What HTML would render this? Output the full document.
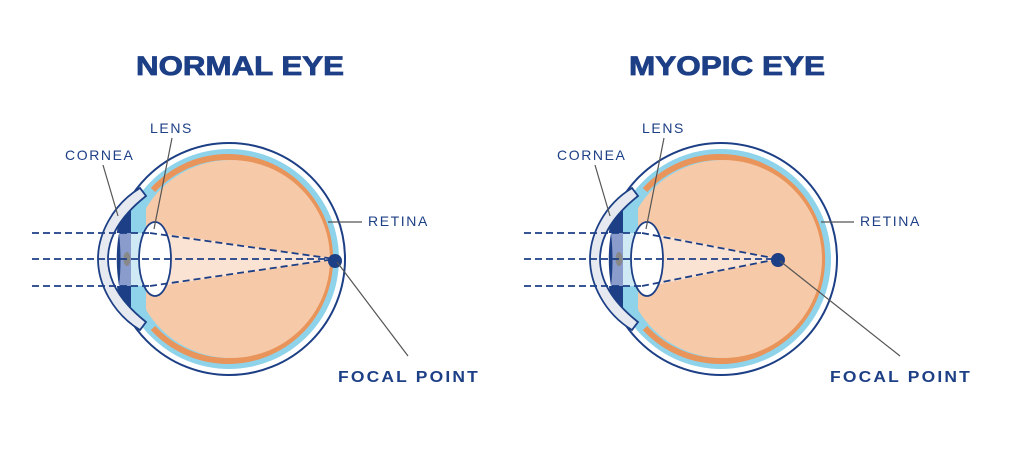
<!DOCTYPE html>
<html><head><meta charset="utf-8"><style>
html,body{margin:0;padding:0;background:#fff;}
svg{display:block;font-family:"Liberation Sans",sans-serif;}
</style></head><body>
<svg width="1024" height="454" viewBox="0 0 1024 454" xmlns="http://www.w3.org/2000/svg">
<defs>
<clipPath id="inner"><circle cx="229" cy="259" r="110"/></clipPath>
<g id="eye">
  <circle cx="229" cy="259" r="116" fill="#fff" stroke="#1d3f86" stroke-width="2"/>
  <circle cx="229" cy="259" r="110" fill="#8fd3ea"/>
  <path d="M153 190 A102 102 0 1 1 153 328" fill="none" stroke="#e8945a" stroke-width="6"/>
  <circle cx="231" cy="259" r="99" fill="#f6c9a8"/>
  <g clip-path="url(#inner)">
    <path d="M100 140 L160 140 C150 180 143 215 143 259 C143 303 150 338 160 378 L100 378 Z" fill="#8fd3ea"/>
  </g>
  <!-- front chamber -->
  <path d="M146 196 C122 215 110 236 110 259 C110 282 122 303 146 322 L146 196 Z" fill="#8fd3ea"/>
  <path d="M119 222 C122 214 126 210 131 206 L131 312 C126 308 122 304 119 296 C113 280 113 238 119 222 Z" fill="#1d3f86"/>
  <path d="M131 233 L146 233 L146 286 L131 286 Z" fill="#cfeaf4"/>
  <path d="M146 196 C122 215 110 236 110 259 C110 282 122 303 146 322 L120 322 C112 300 112 218 120 196 Z" fill="none"/>
  <path d="M119 233 C116 250 116 268 119 286 L110 286 L110 233 Z" fill="#fff"/>
  <path d="M119 222 C114 238 114 280 119 296 C116 300 113 300 111 286 C109 270 109 248 111 233 C113 220 116 218 119 222 Z" fill="#fff"/>
  <path d="M119 233 L131 233 L131 286 L119 286 C121 270 121 250 119 233 Z" fill="#8a9ccc"/>
  <ellipse cx="127" cy="259" rx="3.5" ry="7" fill="#888"/>
  <!-- cornea -->
  <path d="M140 188 C112 205 98 235 98 259 C98 283 112 313 140 330 L146 322 C122 303 108 282 108 259 C108 236 122 215 146 196 Z" fill="#e6eaf0" stroke="#1d3f86" stroke-width="1.8"/>
</g>
<g id="lens">
  <ellipse cx="155" cy="259" rx="16" ry="37" fill="#fff" stroke="#1d3f86" stroke-width="1.8"/>
</g>
</defs>

<text x="136" y="75" font-size="27" font-weight="900" fill="#1d3f86" stroke="#1d3f86" stroke-width="0.8" textLength="208" lengthAdjust="spacingAndGlyphs">NORMAL EYE</text>
<use href="#eye"/>
<polygon points="160,233 335,259 160,286" fill="#fbe3d3"/>
<use href="#lens"/>
<g stroke="#1d3f86" stroke-width="1.8" stroke-dasharray="7,4" fill="none">
  <line x1="32" y1="233" x2="150" y2="233"/>
  <line x1="32" y1="259" x2="335" y2="259"/>
  <line x1="32" y1="286" x2="150" y2="286"/>
  <line x1="150" y1="233" x2="335" y2="259"/>
  <line x1="150" y1="286" x2="335" y2="259"/>
</g>
<circle cx="335" cy="261" r="7" fill="#1d3f86"/>
<g stroke="#555" stroke-width="1.2">
  <line x1="172" y1="138" x2="154" y2="229"/>
  <line x1="103" y1="165" x2="118" y2="216"/>
  <line x1="328" y1="222" x2="362" y2="222"/>
  <line x1="337" y1="262" x2="408" y2="356"/>
</g>
<g fill="#1d3f86" font-size="14" letter-spacing="1.6">
  <text x="150" y="133">LENS</text>
  <text x="65" y="160">CORNEA</text>
  <text x="368" y="226">RETINA</text>
</g>
<text x="338" y="382" font-size="16" font-weight="bold" fill="#1d3f86" letter-spacing="2" textLength="142" lengthAdjust="spacingAndGlyphs">FOCAL POINT</text>

<text x="629" y="75" font-size="27" font-weight="900" fill="#1d3f86" stroke="#1d3f86" stroke-width="0.8" textLength="196" lengthAdjust="spacingAndGlyphs">MYOPIC EYE</text>
<g transform="translate(492,0)">
  <use href="#eye"/>
  <polygon points="160,233 286,259 160,286" fill="#fbe3d3"/>
  <use href="#lens"/>
  <g stroke="#1d3f86" stroke-width="1.8" stroke-dasharray="7,4" fill="none">
    <line x1="32" y1="233" x2="150" y2="233"/>
    <line x1="32" y1="259" x2="286" y2="259"/>
    <line x1="32" y1="286" x2="150" y2="286"/>
    <line x1="150" y1="233" x2="286" y2="259"/>
    <line x1="150" y1="286" x2="286" y2="259"/>
  </g>
  <circle cx="286" cy="260" r="7" fill="#1d3f86"/>
  <g stroke="#555" stroke-width="1.2">
    <line x1="172" y1="138" x2="154" y2="229"/>
    <line x1="103" y1="165" x2="118" y2="216"/>
    <line x1="329" y1="222" x2="362" y2="222"/>
    <line x1="288" y1="261" x2="408" y2="356"/>
  </g>
  <g fill="#1d3f86" font-size="14" letter-spacing="1.6">
    <text x="150" y="133">LENS</text>
    <text x="65" y="160">CORNEA</text>
    <text x="368" y="226">RETINA</text>
  </g>
  <text x="338" y="382" font-size="16" font-weight="bold" fill="#1d3f86" letter-spacing="2" textLength="142" lengthAdjust="spacingAndGlyphs">FOCAL POINT</text>
</g>
</svg>
</body></html>
